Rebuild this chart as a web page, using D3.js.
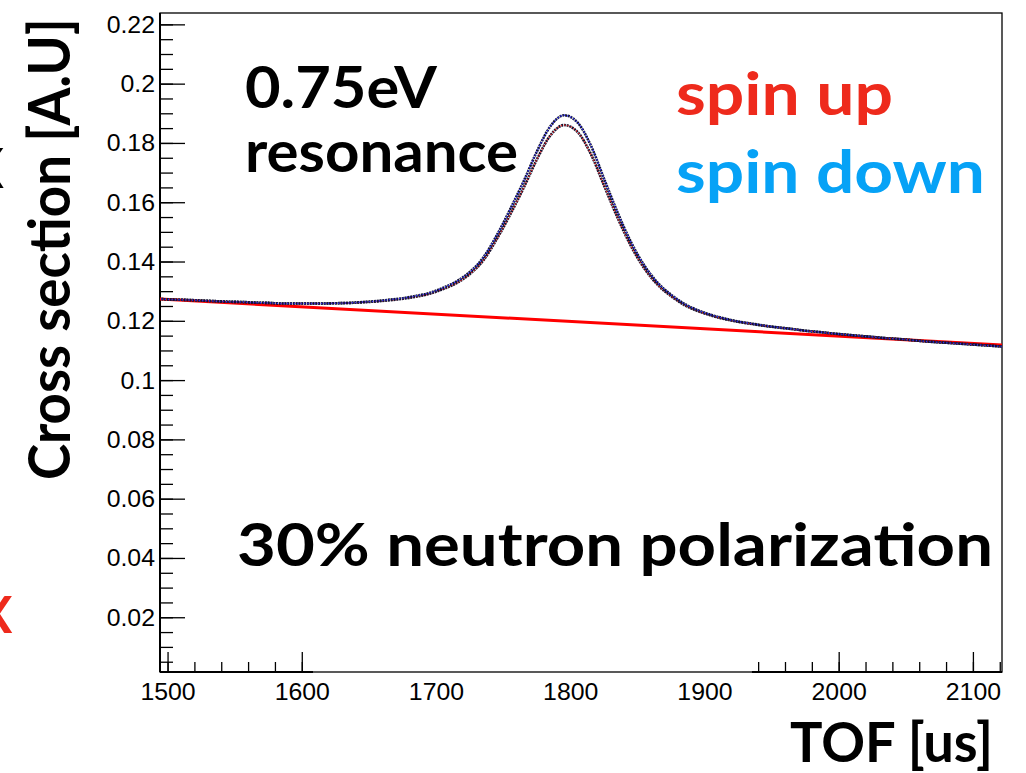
<!DOCTYPE html>
<html>
<head>
<meta charset="utf-8">
<script src="https://cdn.jsdelivr.net/npm/d3@7"></script>
<style>
  body { margin: 0; background: #fff; }
  svg { display: block; }
</style>
</head>
<body>
<svg id="chart"></svg>
<script>
// medidas generales
const WIDTH = 1026;
const HEIGHT = 773;
const margins = { top: 13, right: 24, bottom: 101, left: 160 };

// datos
const tof = [1495, 1505, 1515, 1525, 1535, 1545, 1555, 1565, 1575, 1585,
  1595, 1605, 1615, 1625, 1635, 1645, 1655, 1665, 1675, 1685,
  1695, 1705, 1715, 1725, 1735, 1745, 1755, 1765, 1775, 1785,
  1795, 1805, 1815, 1825, 1835, 1845, 1855, 1865, 1875, 1885,
  1895, 1905, 1915, 1925, 1935, 1945, 1955, 1965, 1975, 1985,
  1995, 2005, 2015, 2025, 2035, 2045, 2055, 2065, 2075, 2085,
  2095, 2105, 2115, 2121];

const spinDown = [0.1275, 0.1273, 0.1272, 0.1270, 0.1268, 0.1266, 0.1265, 0.1263, 0.1262, 0.1260,
  0.1260, 0.1260, 0.1260, 0.1261, 0.1262, 0.1265, 0.1268, 0.1273, 0.1278, 0.1286,
  0.1296, 0.1313, 0.1335, 0.1367, 0.1416, 0.1491, 0.1579, 0.1673, 0.1775, 0.1859,
  0.1895, 0.1871, 0.1793, 0.1679, 0.1566, 0.1466, 0.1387, 0.1329, 0.1289, 0.1258,
  0.1237, 0.1221, 0.1209, 0.1199, 0.1192, 0.1185, 0.1179, 0.1174, 0.1168, 0.1164,
  0.1159, 0.1155, 0.1151, 0.1147, 0.1143, 0.1140, 0.1136, 0.1132, 0.1129, 0.1126,
  0.1123, 0.1120, 0.1117, 0.1115];

const spinUp = [0.1275, 0.1273, 0.1272, 0.1270, 0.1268, 0.1266, 0.1265, 0.1263, 0.1262, 0.1260,
  0.1260, 0.1260, 0.1260, 0.1261, 0.1262, 0.1264, 0.1267, 0.1271, 0.1276, 0.1283,
  0.1293, 0.1309, 0.1329, 0.1360, 0.1406, 0.1478, 0.1561, 0.1651, 0.1748, 0.1828,
  0.1862, 0.1839, 0.1764, 0.1656, 0.1548, 0.1453, 0.1377, 0.1322, 0.1284, 0.1254,
  0.1234, 0.1219, 0.1207, 0.1198, 0.1191, 0.1184, 0.1179, 0.1174, 0.1168, 0.1164,
  0.1159, 0.1155, 0.1151, 0.1147, 0.1143, 0.1140, 0.1136, 0.1132, 0.1129, 0.1126,
  0.1123, 0.1120, 0.1117, 0.1115];

// ajuste lineal del fondo (linea roja)
const fitTof = [1494, 2121.3];
const fitValues = [0.1275, 0.1120];

// ejes
const xDomain = [1494, 2121.3];
const yDomain = [0.0017, 0.224];
const xMajor = [1500, 1600, 1700, 1800, 1900, 2000, 2100];
const yMajor = [0.02, 0.04, 0.06, 0.08, 0.1, 0.12, 0.14, 0.16, 0.18, 0.2, 0.22];
const yLabels = ["0.02", "0.04", "0.06", "0.08", "0.1", "0.12", "0.14", "0.16", "0.18", "0.2", "0.22"];
const xHidden = [1608, 1935]; // tramo del eje tapado en la figura original

const svg = d3.select("#chart").attr("width", WIDTH).attr("height", HEIGHT);

const widthVis = WIDTH - margins.left - margins.right;
const heightVis = HEIGHT - margins.top - margins.bottom;

const x = d3.scaleLinear().domain(xDomain).range([margins.left, margins.left + widthVis]);
const y = d3.scaleLinear().domain(yDomain).range([margins.top + heightVis, margins.top]);

const x0 = x.range()[0], x1 = x.range()[1];
const yb = y.range()[0], yt = y.range()[1];

// marco
svg.append("rect")
  .attr("x", x0).attr("y", yt)
  .attr("width", x1 - x0).attr("height", yb - yt)
  .attr("fill", "none").attr("stroke", "#000").attr("stroke-width", 1.3);

// clip para las curvas
svg.append("clipPath").attr("id", "area")
  .append("rect").attr("x", x0).attr("y", yt).attr("width", x1 - x0).attr("height", yb - yt);

// ticks del eje y (hacia adentro)
const yMinor = d3.range(1, 45).map(i => i * 0.005).filter(v => v <= yDomain[1]);
const ejeY = svg.append("g");
ejeY.selectAll("line.minor").data(yMinor).join("line")
  .attr("x1", x0).attr("x2", x0 + 13)
  .attr("y1", d => y(d)).attr("y2", d => y(d))
  .attr("stroke", "#000").attr("stroke-width", 1.3);
ejeY.selectAll("line.major").data(yMajor).join("line")
  .attr("x1", x0).attr("x2", x0 + 25)
  .attr("y1", d => y(d)).attr("y2", d => y(d))
  .attr("stroke", "#000").attr("stroke-width", 1.3);
ejeY.append("line").attr("x1", x0).attr("x2", x0).attr("y1", yt).attr("y2", yb)
  .attr("stroke", "#000").attr("stroke-width", 2);
ejeY.selectAll("text").data(yMajor).join("text")
  .attr("x", x0 - 5).attr("y", d => y(d) + 8)
  .attr("text-anchor", "end")
  .attr("font-family", "'Liberation Sans', Arial, sans-serif")
  .attr("font-size", 23)
  .text((d, i) => yLabels[i]);

// ticks del eje x
const visible = v => v <= xHidden[0] || v >= xHidden[1];
const xMinor = d3.range(1500, 2121, 20).filter(visible);
const ejeX = svg.append("g");
ejeX.selectAll("line.minor").data(xMinor).join("line")
  .attr("x1", d => x(d)).attr("x2", d => x(d))
  .attr("y1", yb).attr("y2", yb - 10)
  .attr("stroke", "#000").attr("stroke-width", 1.3);
ejeX.selectAll("line.major").data(xMajor.filter(visible)).join("line")
  .attr("x1", d => x(d)).attr("x2", d => x(d))
  .attr("y1", yb).attr("y2", yb - 20)
  .attr("stroke", "#000").attr("stroke-width", 1.3);
[[xDomain[0], xHidden[0]], [xHidden[1], xDomain[1]]].forEach(s => {
  ejeX.append("line").attr("x1", x(s[0])).attr("x2", x(s[1])).attr("y1", yb).attr("y2", yb)
    .attr("stroke", "#000").attr("stroke-width", 2);
});
ejeX.selectAll("text").data(xMajor).join("text")
  .attr("x", d => x(d)).attr("y", yb + 28)
  .attr("text-anchor", "middle")
  .attr("font-family", "'Liberation Sans', Arial, sans-serif")
  .attr("font-size", 23)
  .text(d => d);

// estirar un poco las etiquetas como en la figura
svg.selectAll("g text").each(function () {
  const w = this.getComputedTextLength();
  d3.select(this).attr("textLength", w * 1.08).attr("lengthAdjust", "spacingAndGlyphs");
});

// curvas
const curvas = svg.append("g").attr("clip-path", "url(#area)");

const linea = d3.line().x(d => x(d[0])).y(d => y(d[1])).curve(d3.curveMonotoneX);

curvas.append("path")
  .attr("d", linea(d3.zip(fitTof, fitValues)))
  .attr("fill", "none").attr("stroke", "#ff0000").attr("stroke-width", 3);

const series = [
  { valores: spinUp, color: "#e8201c" },
  { valores: spinDown, color: "#2c2cff" }
];
series.forEach(s => {
  const pts = d3.zip(tof, s.valores);
  curvas.append("path").attr("d", linea(pts))
    .attr("fill", "none").attr("stroke", "#141432").attr("stroke-width", 2.6)
    .attr("stroke-dasharray", "2,0.8");
  curvas.append("path").attr("d", linea(pts))
    .attr("fill", "none").attr("stroke", s.color).attr("stroke-width", 1.4)
    .attr("stroke-dasharray", "1.2,2.2");
});

// textos
const fuente = "Lato, 'Noto Sans', sans-serif";
const texto = (t, px, py, size, color, ancho) => svg.append("text")
  .attr("x", px).attr("y", py)
  .attr("font-family", fuente).attr("font-weight", 700)
  .attr("font-size", size).attr("fill", color)
  .attr("textLength", ancho).attr("lengthAdjust", "spacingAndGlyphs")
  .text(t);

texto("0.75eV", 245, 108, 57, "#000", 192);
texto("resonance", 245, 172, 57, "#000", 273);
texto("spin up", 676, 115, 60, "#ee2a1c", 217);
texto("spin down", 676, 193, 60, "#06a2f6", 309);
texto("30% neutron polarization", 237, 566, 60, "#000", 756);
texto("TOF [us]", 790, 762, 56, "#000", 203);

svg.append("text")
  .attr("transform", "translate(70,480) rotate(-90)")
  .attr("font-family", fuente).attr("font-weight", 700)
  .attr("font-size", 58).attr("fill", "#000")
  .attr("textLength", 462).attr("lengthAdjust", "spacingAndGlyphs")
  .text("Cross section [A.U]");

// restos de la diapositiva cortados en el borde
svg.append("text").attr("x", -5).attr("y", 633).attr("text-anchor", "middle")
  .attr("font-family", fuente).attr("font-weight", 700)
  .attr("font-size", 52).attr("fill", "#ee2a1c").text("X");
svg.append("text").attr("x", -15).attr("y", 188).attr("text-anchor", "middle")
  .attr("font-family", fuente).attr("font-weight", 700)
  .attr("font-size", 56).attr("fill", "#000").text("X");
</script>
</body>
</html>
